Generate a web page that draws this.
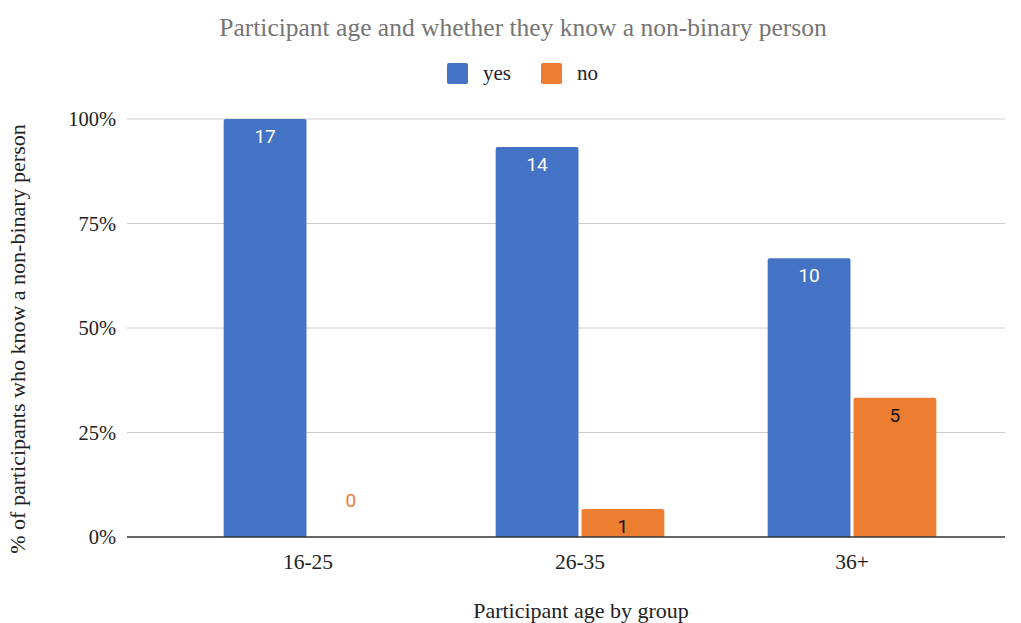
<!DOCTYPE html>
<html>
<head>
<meta charset="utf-8">
<script src="https://cdn.jsdelivr.net/npm/d3@7"></script>
<style>
  body { margin: 0; background: #fff; }
</style>
</head>
<body>
<div id="chart"></div>
<script>
// chart data
const groups = ['16-25', '26-35', '36+'];
const seriesNames = ['yes', 'no'];
const yesPct = [100, 93.3, 66.7];
const noPct = [0, 6.7, 33.3];
const yesCount = [17, 14, 10];
const noCount = [0, 1, 5];
const yTicks = [0, 25, 50, 75, 100];
const colors = { yes: '#4472c4', no: '#ed7d31' };

const serif = "'Liberation Serif', 'Times New Roman', serif";
const sans = "Roboto, 'Liberation Sans', Arial, sans-serif";

const width = 1021;
const height = 623;
const plot = { left: 127, right: 1005, top: 119, bottom: 537 };

const svg = d3
  .select('#chart')
  .append('svg')
  .attr('width', width)
  .attr('height', height)
  .style('font-family', serif);

const yScale = d3
  .scaleLinear()
  .domain([0, 100])
  .range([plot.bottom, plot.top]);

const xScale = d3
  .scaleBand()
  .domain(groups)
  .range([172, 988])
  .paddingInner(0.38)
  .paddingOuter(0.19);

const xInner = d3
  .scaleBand()
  .domain(seriesNames)
  .range([0, xScale.bandwidth()])
  .paddingInner(0.035);

// gridlines
svg
  .append('g')
  .selectAll('line')
  .data(yTicks.filter(d => d > 0))
  .enter()
  .append('line')
  .attr('x1', plot.left)
  .attr('x2', plot.right)
  .attr('y1', d => yScale(d))
  .attr('y2', d => yScale(d))
  .attr('stroke', '#cccccc')
  .attr('stroke-width', 1);

// y tick labels
svg
  .append('g')
  .selectAll('text')
  .data(yTicks)
  .enter()
  .append('text')
  .attr('x', 116)
  .attr('y', d => yScale(d))
  .attr('dy', '0.35em')
  .style('font-family', serif)
  .style('text-anchor', 'end')
  .style('font-size', '20.5px')
  .style('fill', '#222')
  .text(d => `${d}%`);

// bars
const rows = groups.map((g, i) => ({
  group: g,
  values: [
    { key: 'yes', pct: yesPct[i], count: yesCount[i] },
    { key: 'no', pct: noPct[i], count: noCount[i] },
  ],
}));

const groupSel = svg
  .append('g')
  .selectAll('g')
  .data(rows)
  .enter()
  .append('g')
  .attr('transform', d => `translate(${xScale(d.group)},0)`);

function barPath(d) {
  const x = xInner(d.key);
  const w = xInner.bandwidth();
  const y = yScale(d.pct);
  const h = plot.bottom - y;
  const r = Math.min(2, h);
  if (h <= 0) return '';
  return `M${x},${plot.bottom}V${y + r}Q${x},${y} ${x + r},${y}H${x + w - r}Q${x + w},${y} ${x + w},${y + r}V${plot.bottom}Z`;
}

groupSel
  .selectAll('path')
  .data(d => d.values)
  .enter()
  .append('path')
  .attr('d', barPath)
  .attr('fill', d => colors[d.key]);

// value labels
groupSel
  .selectAll('text')
  .data(d => d.values)
  .enter()
  .append('text')
  .attr('x', d => xInner(d.key) + xInner.bandwidth() / 2)
  .attr('y', d => (d.pct === 0 ? yScale(0) - 30 : yScale(d.pct) + 24))
  .style('font-family', sans)
  .style('text-anchor', 'middle')
  .style('font-size', '19px')
  .style('fill', d => {
    if (d.pct === 0) return colors.no;
    return d.key === 'yes' ? '#ffffff' : '#111111';
  })
  .text(d => d.count);

// baseline
svg
  .append('line')
  .attr('x1', plot.left)
  .attr('x2', plot.right)
  .attr('y1', plot.bottom)
  .attr('y2', plot.bottom)
  .attr('stroke', '#333')
  .attr('stroke-width', 1.3);

// x tick labels
svg
  .append('g')
  .selectAll('text')
  .data(groups)
  .enter()
  .append('text')
  .attr('x', d => xScale(d) + xScale.bandwidth() / 2)
  .attr('y', 569)
  .style('font-family', serif)
  .style('text-anchor', 'middle')
  .style('font-size', '21.5px')
  .style('fill', '#222')
  .text(d => d);

// title
svg
  .append('text')
  .attr('x', 523)
  .attr('y', 36)
  .style('font-family', serif)
  .style('text-anchor', 'middle')
  .style('font-size', '25.5px')
  .style('fill', '#757575')
  .text('Participant age and whether they know a non-binary person');

// legend
const legend = svg
  .append('g')
  .selectAll('g')
  .data(seriesNames)
  .enter()
  .append('g')
  .attr('transform', (d, i) => `translate(${i === 0 ? 447 : 541},63)`);

legend
  .append('rect')
  .attr('width', 21)
  .attr('height', 21)
  .attr('rx', 2)
  .attr('fill', d => colors[d]);

legend
  .append('text')
  .attr('x', 36)
  .attr('y', 17)
  .style('font-family', serif)
  .style('font-size', '21px')
  .style('fill', '#222')
  .text(d => d);

// axis titles
svg
  .append('text')
  .attr('x', 581)
  .attr('y', 618)
  .style('font-family', serif)
  .style('text-anchor', 'middle')
  .style('font-size', '22px')
  .style('fill', '#222')
  .text('Participant age by group');

svg
  .append('text')
  .attr('transform', 'rotate(-90)')
  .attr('x', -339)
  .attr('y', 25)
  .style('font-family', serif)
  .style('text-anchor', 'middle')
  .style('font-size', '22px')
  .style('fill', '#222')
  .text('% of participants who know a non-binary person');
</script>
</body>
</html>
